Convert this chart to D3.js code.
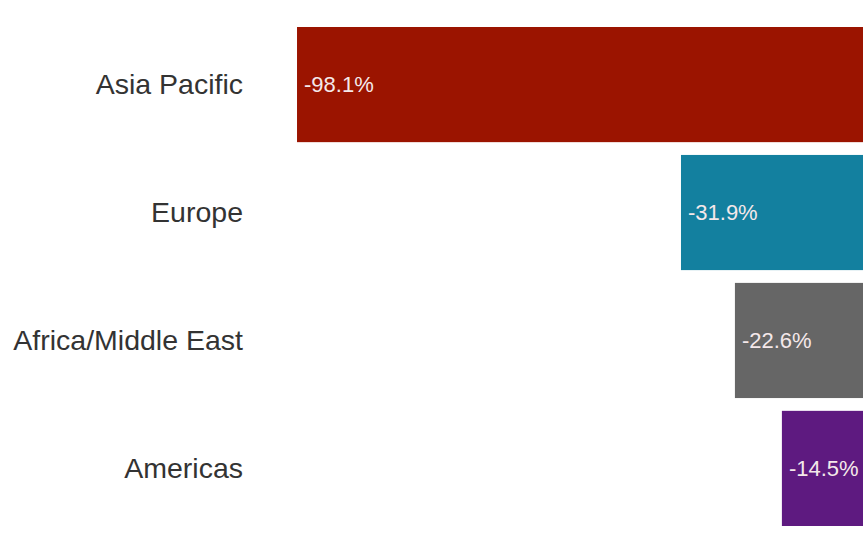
<!DOCTYPE html>
<html>
<head>
<meta charset="utf-8">
<script src="https://cdn.jsdelivr.net/npm/d3@7"></script>
<style>
  body { margin: 0; background: #fff; }
  svg { display: block; font-family: "Liberation Sans", Arial, Helvetica, sans-serif; }
</style>
</head>
<body>
<script>
'use strict';
(function() {

  // chart data
  let regions = ["Asia Pacific", "Europe", "Africa/Middle East", "Americas"];
  let changes = [-98.1, -31.9, -22.6, -14.5];
  let barColors = ["#9b1400", "#13809f", "#666666", "#5e1a80"];

  let svgContainer = d3.select('body')
    .append('svg')
    .attr('width', 863)
    .attr('height', 544);

  let rows = regions.map((r, i) => ({ region: r, value: changes[i], color: barColors[i] }));

  // band scale for the regions, linear scale for percent change
  let yScale = d3.scaleBand()
    .domain(regions)
    .range([27, 526])
    .paddingInner(0.1)
    .paddingOuter(0);

  let xScale = d3.scaleLinear()
    .domain([-100, 0])
    .range([286, 866]);

  // bars grow leftwards from zero
  svgContainer.selectAll('.bar')
    .data(rows)
    .enter()
    .append('rect')
    .attr('class', 'bar')
    .attr('x', d => xScale(d.value))
    .attr('y', d => yScale(d.region))
    .attr('width', d => xScale(0) - xScale(d.value))
    .attr('height', yScale.bandwidth())
    .style('fill', d => d.color);

  // value labels inside the bars
  svgContainer.selectAll('.value')
    .data(rows)
    .enter()
    .append('text')
    .attr('class', 'value')
    .attr('x', d => xScale(d.value) + 7)
    .attr('y', d => yScale(d.region) + yScale.bandwidth() / 2)
    .attr('dy', '0.35em')
    .style('font-size', '22px')
    .style('fill', '#f4e8ea')
    .text(d => d.value.toFixed(1) + '%');

  // region names on the left
  let yAxis = d3.axisLeft(yScale).tickSize(0).tickPadding(0);
  let axisG = svgContainer.append('g')
    .attr('transform', 'translate(243, 0)')
    .call(yAxis);
  axisG.select('.domain').remove();
  axisG.selectAll('text')
    .style('font-family', '"Liberation Sans", Arial, Helvetica, sans-serif')
    .style('font-size', '28.5px')
    .style('fill', '#333333');
})();
</script>
</body>
</html>
